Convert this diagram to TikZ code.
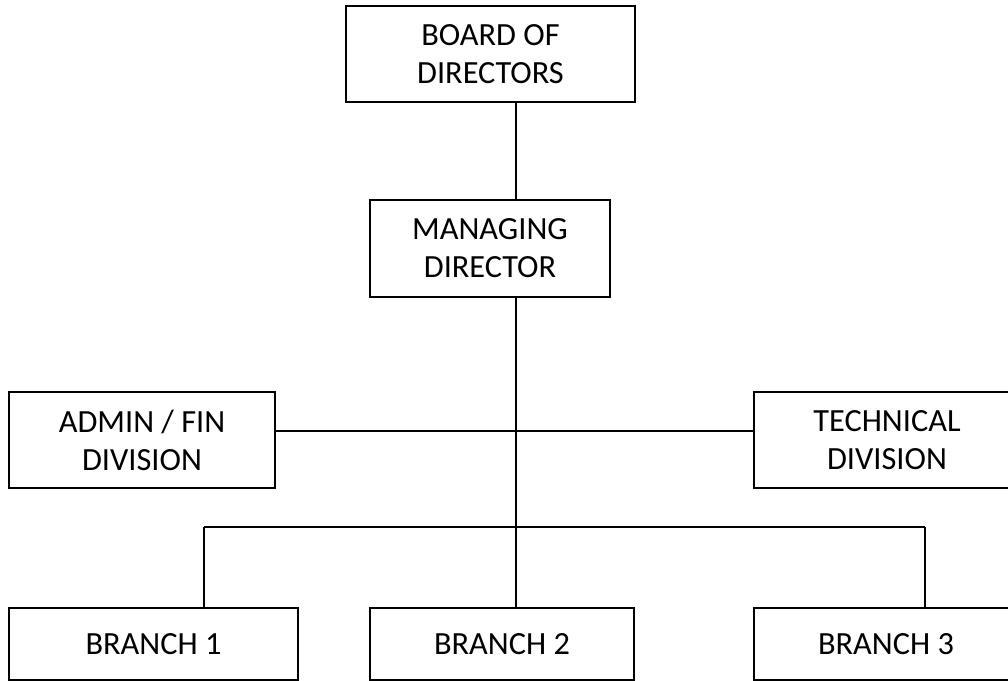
\documentclass[tikz,border=0pt]{standalone}
\usepackage{fontspec}
\setmainfont{Carlito}

\begin{document}
\begin{tikzpicture}[x=0.025cm, y=-0.025cm]

\tikzstyle{unit}=[shape=rectangle, draw, line width=1.4pt, align=center,
    inner sep=0pt, font=\fontsize{23}{27}\selectfont]
\tikzstyle{link}=[line width=1.4pt]

  \useasboundingbox (0,0) rectangle (1008,681);

  \node[unit, minimum width=7.225cm, minimum height=2.4cm] (board) at (490.5,54) {BOARD OF\\DIRECTORS};
  \node[unit, minimum width=6cm, minimum height=2.425cm] (md) at (490,248.5) {MANAGING\\DIRECTOR};

  \node[unit, minimum width=6.65cm, minimum height=2.4cm] (admin) at (142,440) {ADMIN / FIN\\DIVISION};
  \node[unit, minimum width=6.65cm, minimum height=2.4cm] (tech) at (887,440) {TECHNICAL\\DIVISION};

  \node[unit, minimum width=7.225cm, minimum height=1.8cm] (branch1) at (153.5,644) {BRANCH 1};
  \node[unit, minimum width=6.6cm, minimum height=1.8cm] (branch2) at (502,644) {BRANCH 2};
  \node[unit, minimum width=6.6cm, minimum height=1.8cm] (branch3) at (886,644) {BRANCH 3};

  % joints
  \coordinate (divJoin) at (516,431);
  \coordinate (leftDrop) at (204,527);
  \coordinate (rightDrop) at (925,527);

  \draw[link] (board.south -| divJoin) -- (md.north -| divJoin);
  \draw[link] (md.south -| divJoin) -- (branch2.north -| divJoin);
  \draw[link] (admin.east |- divJoin) -- (tech.west |- divJoin);

  \draw[link] (leftDrop) -- (rightDrop);
  \draw[link] (leftDrop) -- (branch1.north -| leftDrop);
  \draw[link] (rightDrop) -- (branch3.north -| rightDrop);

\end{tikzpicture}
\end{document}
